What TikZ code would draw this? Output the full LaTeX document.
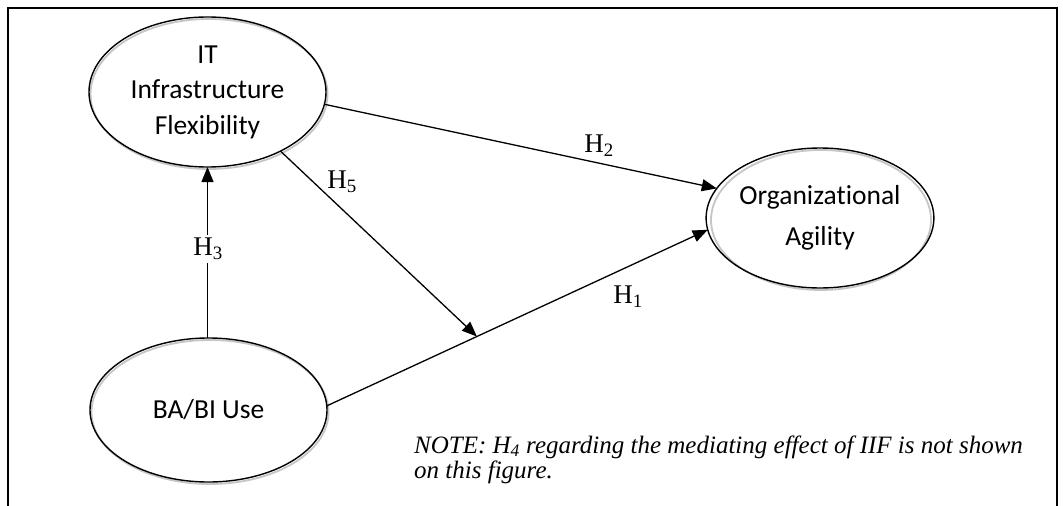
\documentclass[tikz,border=0pt]{standalone}
\usepackage{fontspec}
\setmainfont{Liberation Serif}
\newfontfamily\calibri[Ligatures=NoCommon]{Carlito}
\usetikzlibrary{shapes.geometric,arrows.meta,calc}
\begin{document}
\begin{tikzpicture}[x=1pt,y=-1pt,
  construct/.style={ellipse, draw=black, line width=1.4pt, inner sep=0pt, outer sep=0pt,
    align=center, font=\calibri\fontsize{27.5}{35.5}\selectfont},
  shade/.style={draw=gray!45, line width=1.8pt},
  conn/.style={line width=1.3pt, -{Triangle[length=15pt,width=12pt]}},
  hlab/.style={font=\fontsize{27}{30}\selectfont, inner sep=1pt}
]
\useasboundingbox (0,0) rectangle (1063,506);
\fill[white] (0,0) rectangle (1063,506);
% frame
\draw[line width=2.2pt] (8,506) -- (8,8) -- (1057,8) -- (1057,506);
% shadows of ellipses
\draw[shade] (209,94) ellipse [x radius=118.5, y radius=75];
\draw[shade] (210,412) ellipse [x radius=118.5, y radius=72];
\draw[shade] (821,220) ellipse [x radius=110, y radius=70];
% nodes
\node[construct, minimum width=237pt, minimum height=150pt] (it) at (207.5,92)
  {IT\\Infrastructure\\Flexibility};
\node[construct, minimum width=237pt, minimum height=144pt] (ba) at (208.5,410)
  {BA/BI Use};
\node[construct, minimum width=220pt, minimum height=140pt,
  font=\calibri\fontsize{27.5}{41}\selectfont] (oa) at (820,218)
  {Organizational\\Agility};
% connectors
\draw[conn] (it.-6) -- node[hlab, pos=0.7, above=5pt] {H\textsubscript{2}} (oa.164);
\draw[conn] (ba.2) -- (oa.186);
\coordinate (mid) at ($(ba.2)!0.394!(oa.186)$);
\draw[conn] (it.-39) -- (mid);
\draw[conn] (ba.north -| it.south) -- (it.south);
% labels
\node[hlab] (h1) at (628,297) {H\textsubscript{1}};
\node[hlab] (h5) at (342,182) {H\textsubscript{5}};
\node[hlab, fill=white, inner ysep=3pt] (h3) at (208,249) {H\textsubscript{3}};
% note
\node[anchor=base west, align=left, inner sep=0pt,
  font=\itshape\fontsize{25}{25}\selectfont] (note) at (414,478)
  {NOTE: H\textsubscript{4} regarding the mediating effect of IIF is not shown\\on this figure.};
\end{tikzpicture}
\end{document}
